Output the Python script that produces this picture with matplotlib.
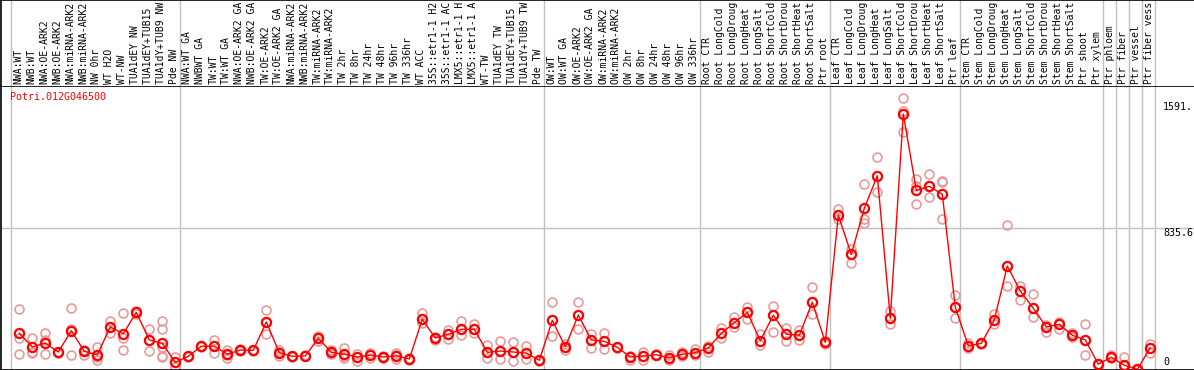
import numpy as np
import matplotlib
matplotlib.use("Agg")
import matplotlib.pyplot as plt

gene = "Potri.012G046500"

conditions = [
    "NWA:WT", "NWB:WT", "NWA:OE-ARK2", "NWB:OE-ARK2", "NWA:miRNA-ARK2", "NWB:miRNA-ARK2",
    "NW 0hr", "WT H2O", "WT-NW", "TUA1dEY NW", "TUA1dEY+TUB15 NW", "TUA1dY+TUB9 NW", "Pde NW",
    "NWA:WT GA", "NWBWT GA", "TW:WT", "TW:WT GA", "NWA:OE-ARK2 GA", "NWB:OE-ARK2 GA",
    "TW:OE-ARK2", "TW:OE-ARK2 GA", "NWA:miRNA-ARK2 GA", "NWB:miRNA-ARK2 GA", "TW:miRNA-ARK2",
    "TW:miRNA-ARK2 GA", "TW 2hr", "TW 8hr", "TW 24hr", "TW 48hr", "TW 96hr", "TW 336hr",
    "WT ACC", "35S::etr1-1 H2O", "35S::etr1-1 ACC", "LMX5::etr1-1 H2O", "LMX5::etr1-1 ACC",
    "WT-TW", "TUA1dEY TW", "TUA1dEY+TUB15 TW", "TUA1dY+TUB9 TW", "Pde TW",
    "OW:WT", "OW:WT GA", "OW:OE-ARK2", "OW:OE-ARK2 GA", "OW:miRNA-ARK2", "OW:miRNA-ARK2 GA",
    "OW 2hr", "OW 8hr", "OW 24hr", "OW 48hr", "OW 96hr", "OW 336hr",
    "Root CTR", "Root LongCold", "Root LongDrought", "Root LongHeat", "Root LongSalt",
    "Root ShortCold", "Root ShortDrought", "Root ShortHeat", "Root ShortSalt", "Ptr root",
    "Leaf CTR", "Leaf LongCold", "Leaf LongDrought", "Leaf LongHeat", "Leaf LongSalt",
    "Leaf ShortCold", "Leaf ShortDrought", "Leaf ShortHeat", "Leaf ShortSalt", "Ptr leaf",
    "Stem CTR", "Stem LongCold", "Stem LongDrought", "Stem LongHeat", "Stem LongSalt",
    "Stem ShortCold", "Stem ShortDrought", "Stem ShortHeat", "Stem ShortSalt", "Ptr shoot",
    "Ptr xylem", "Ptr phloem", "Ptr fiber", "Ptr vessel", "Ptr fiber vessel",
]
max_chars = 14  # header only shows the first 14 characters

group_sizes = [13, 28, 12, 10, 10, 11, 1, 1, 1, 1]

means = [
    213, 133, 156, 103, 229, 107, 87, 251, 211, 337, 174, 154, 42,
    78, 137, 137, 90, 115, 113, 280, 99, 78, 80, 184, 101, 90, 74, 84, 74, 81, 62,
    296, 186, 208, 237, 237, 101, 109, 103, 97, 54,
    290, 133, 321, 174, 166, 131, 74, 80, 87, 68, 90, 99,
    127, 213, 276, 337, 170, 320, 208, 202, 396, 160,
    909, 679, 950, 1142, 302, 1506, 1056, 1080, 1033, 367,
    139, 154, 292, 610, 463, 361, 251, 266, 202, 174, 32,
    72, 25, 1, 129,
]

replicates = [
    [355, 187, 90], [184, 105, 99], [213, 90, 174], [100, 103, 106], [361, 241, 84],
    [115, 85, 110], [134, 56, 72], [286, 213, 251], [331, 184, 115], [330, 337, 344],
    [239, 109, 174], [286, 241, 80, 72, 134], [72, 13, 44],
    [78, 75, 81], [137, 140, 134], [174, 99, 137], [115, 66, 85], [115, 112, 118],
    [113, 110, 116], [349, 209, 280], [115, 80, 103], [78, 75, 81], [80, 77, 83],
    [197, 186, 170], [115, 90, 98], [125, 66, 80], [91, 52, 74], [99, 84, 70],
    [74, 70, 78], [95, 60, 86], [62, 58, 66],
    [335, 272, 296], [193, 174, 186], [233, 180, 208], [284, 203, 237], [266, 213, 237],
    [144, 66, 101], [168, 60, 109], [160, 50, 103], [140, 60, 97], [54, 50, 58],
    [400, 197, 290], [113, 133, 150], [400, 237, 321], [209, 128, 174], [213, 123, 166],
    [131, 128, 134], [74, 56, 80], [56, 103, 80], [87, 84, 90], [84, 54, 68],
    [105, 90, 80], [119, 99, 85],
    [105, 127, 140], [246, 187, 213], [309, 252, 276], [370, 299, 337], [208, 144, 170],
    [374, 223, 320], [243, 168, 208], [231, 174, 202], [485, 325, 396], [170, 149, 160],
    [944, 889, 909], [712, 626, 679], [1092, 885, 865], [1251, 1045, 1142], [347, 266, 302],
    [1599, 1526, 1398], [1123, 1082, 974], [1151, 1015, 1080], [1111, 1104, 887], [439, 302, 367],
    [154, 125, 139], [154, 150, 158], [327, 268, 292], [852, 492, 610], [494, 410, 463],
    [445, 311, 361], [219, 251, 260], [280, 241, 266], [213, 192, 202], [266, 84, 174],
    [32, 30, 34], [85, 72, 70], [74, 25, 20], [1, 2, 0], [149, 95, 129],
]

ymax = 1671.2
right_labels = ["1591.", "835.6", "0"]

W, H = 1194, 370
head_px = 86
fig = plt.figure(figsize=(W / 100, H / 100), dpi=100)

# pixel -> data mapping: column i centred at 19.3 + 13 i px
x0, step = 19.3, 13.0
xlim = ((1 - x0) / step, (W - x0) / step)

plot_h = (369.5 - head_px) / H
ax = fig.add_axes([1 / W, 0.5 / H, (W - 1) / W, plot_h])
hdr = fig.add_axes([1 / W, (H - head_px) / H, (W - 1) / W, head_px / H - 0.5 / H])

for a in (ax, hdr):
    a.set_xlim(*xlim)
    a.set_xticks([])
    a.set_yticks([])
    for s in a.spines.values():
        s.set_color("black")
        s.set_linewidth(1.2)
    a.spines["right"].set_visible(False)
hdr.spines["bottom"].set_visible(False)
hdr.set_ylim(0, 1)
ax.set_ylim(0, ymax)

bounds = np.concatenate([[0], np.cumsum(group_sizes)]) - 0.64
for b in bounds:
    ax.axvline(b, color="#c0c0c0", lw=1, zorder=1)
    hdr.axvline(b, color="#c0c0c0", lw=1, zorder=1)
ax.axhline(ymax / 2, color="#c0c0c0", lw=1, zorder=1)

xs = np.arange(len(means))
for i, reps in enumerate(replicates):
    ax.plot([i] * len(reps), reps, "o", ms=6.4, mfc="none", mec="#e89a9a", mew=1.2,
            zorder=2, clip_on=False)
ax.plot(xs, means, "-", color="red", lw=1, zorder=3)
ax.plot(xs, means, "o", ms=6.6, mfc="none", mec="red", mew=1.6, zorder=4, clip_on=False)

for i, lab in enumerate(conditions):
    hdr.text(i - 0.08, 0.025, lab[:max_chars], rotation=90, ha="center", va="bottom",
             family="DejaVu Sans Mono", fontsize=7.0, clip_on=True)

ax.text(9 / W, 1 - 11 / 283.5, gene, transform=ax.transAxes,
        color="red", family="DejaVu Sans Mono", fontsize=7.2, ha="left", va="center")

for lab, ypx in zip(right_labels, [107, 233, 362]):
    ax.text(1163 / W, (369.5 - ypx) / 283.5, lab, transform=ax.transAxes,
            family="DejaVu Sans Mono", fontsize=7.2, ha="left", va="center")

fig.savefig("out.png", dpi=100)
